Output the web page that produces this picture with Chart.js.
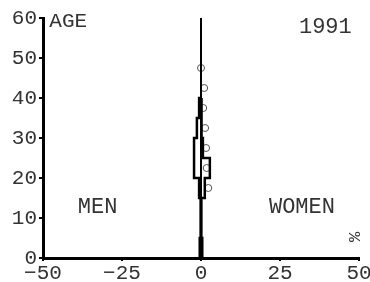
<!DOCTYPE html>
<html>
<head>
<meta charset="utf-8">
<script src="https://cdn.jsdelivr.net/npm/chart.js@4/dist/chart.umd.min.js"></script>
<style>
  html, body { margin: 0; padding: 0; background: #fff; }
  #wrap { width: 370px; height: 282px; }
</style>
</head>
<body>
<div id="wrap"><canvas id="c" width="370" height="282"></canvas></div>
<script>
// age groups (lower bound, 5-year bands) and share in % per sex
const ageStarts = [0, 5, 10, 15, 20, 25, 30, 35];
const bandWidth = 5;
const menPct   = [0.4, 0.15, 0.1, 0.6, 2.2, 2.2, 1.3, 0.6];
const womenPct = [0.4, 0.15, 0.1, 1.2, 2.8, 0.6, 0.3, 0.2];

// circles: comparison values at band midpoints
const markAges = [17.5, 22.5, 27.5, 32.5, 37.5, 42.5, 47.5];
const markPct  = [2.3, 1.8, 1.6, 1.3, 0.7, 1.0, 0.0];

const xTicks = [-50, -25, 0, 25, 50];
const yTicks = [0, 10, 20, 30, 40, 50, 60];

const FONT = "'Liberation Mono', 'DejaVu Sans Mono', monospace";
const TXT = '#333';

// step outline of a histogram side, built from the bands
function outline(values, sign) {
    const pts = [{ x: 0, y: ageStarts[0] }];
    values.forEach((v, i) => {
        pts.push({ x: sign * v, y: ageStarts[i] });
        pts.push({ x: sign * v, y: ageStarts[i] + bandWidth });
    });
    pts.push({ x: 0, y: ageStarts[ageStarts.length - 1] + bandWidth });
    return pts;
}

const labelsPlugin = {
    id: 'labels',
    afterDraw(chart) {
        const { ctx, scales: { x, y } } = chart;
        ctx.save();
        ctx.fillStyle = TXT;
        ctx.textBaseline = 'middle';
        ctx.font = '21px ' + FONT;
        ctx.textAlign = 'left';
        ctx.fillText('AGE', x.getPixelForValue(-48), y.getPixelForValue(60) + 3);
        ctx.font = '22px ' + FONT;
        ctx.fillText('1991', x.getPixelForValue(31), y.getPixelForValue(58) + 1);
        ctx.fillText('MEN', x.getPixelForValue(-39), y.getPixelForValue(12.8));
        ctx.fillText('WOMEN', x.getPixelForValue(21.5), y.getPixelForValue(12.8));
        ctx.translate(x.getPixelForValue(48.8), y.getPixelForValue(5.3));
        ctx.rotate(-Math.PI / 2);
        ctx.textAlign = 'center';
        ctx.font = '17px ' + FONT;
        ctx.fillText('%', 0, 0);
        ctx.restore();
    }
};

new Chart(document.getElementById('c').getContext('2d'), {
    type: 'scatter',
    data: {
        datasets: [
            {
                data: [{ x: 0, y: 0 }, { x: 0, y: 60 }],
                showLine: true, borderColor: '#000', borderWidth: 2, pointRadius: 0,
            },
            {
                data: outline(menPct, -1),
                showLine: true, borderColor: '#000', borderWidth: 2.5, pointRadius: 0,
            },
            {
                data: outline(womenPct, 1),
                showLine: true, borderColor: '#000', borderWidth: 2.5, pointRadius: 0,
            },
            {
                data: markAges.map((a, i) => ({ x: markPct[i], y: a })),
                showLine: false, pointRadius: 3.5, pointBorderWidth: 1,
                pointBorderColor: '#555', pointBackgroundColor: 'rgba(0,0,0,0)',
            },
        ]
    },
    options: {
        responsive: false,
        animation: false,
        layout: { padding: { top: 18, right: 11, left: 0, bottom: 0 } },
        plugins: { legend: { display: false }, tooltip: { enabled: false } },
        scales: {
            x: {
                type: 'linear', min: -50, max: 50,
                afterBuildTicks: s => { s.ticks = xTicks.map(v => ({ value: v })); },
                afterFit: s => { s.height = 24; s.paddingLeft = 0; s.paddingRight = 0; },
                border: { color: '#000', width: 3 },
                grid: { drawOnChartArea: false, tickLength: 3, color: '#000', lineWidth: 2 },
                ticks: {
                    padding: 0, color: TXT, maxRotation: 0, autoSkip: false,
                    font: { family: FONT, size: 21 },
                    callback: v => v < 0 ? '\u2212' + Math.abs(v) : String(v),
                },
            },
            y: {
                type: 'linear', min: 0, max: 60,
                afterBuildTicks: s => { s.ticks = yTicks.map(v => ({ value: v })); },
                afterFit: s => { s.width = 43; },
                border: { color: '#000', width: 3 },
                grid: { drawOnChartArea: false, tickLength: 4, color: '#000', lineWidth: 2 },
                ticks: {
                    padding: 2, color: TXT, autoSkip: false,
                    font: { family: FONT, size: 21 },
                },
            },
        }
    },
    plugins: [labelsPlugin]
});
</script>
</body>
</html>
